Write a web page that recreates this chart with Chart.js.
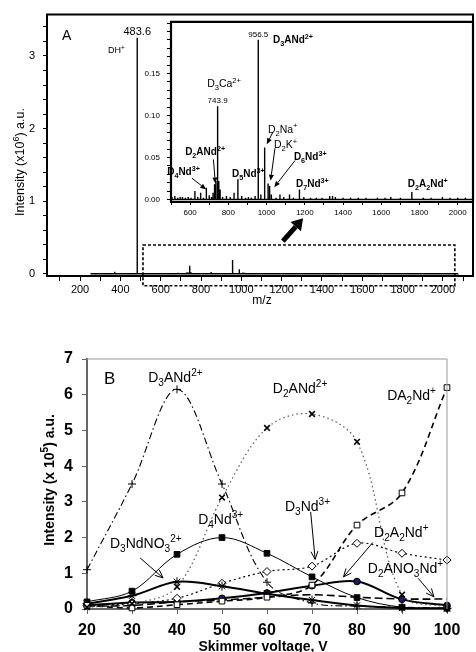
<!DOCTYPE html>
<html>
<head>
<meta charset="utf-8">
<script src="https://cdn.jsdelivr.net/npm/chart.js@4.4.0/dist/chart.umd.min.js"></script>
<style>
html, body { margin: 0; padding: 0; background: #fff; }
#wrap { position: relative; width: 476px; height: 652px; overflow: hidden; }
canvas { position: absolute; }
</style>
</head>
<body>
<div id="wrap">
  <canvas id="specMain" width="476" height="310" style="left:0px;top:0px"></canvas>
  <canvas id="specInset" width="356" height="215" style="left:120px;top:10px"></canvas>
  <canvas id="bChart" width="476" height="322" style="left:0px;top:330px"></canvas>
</div>
<script>
// Panel A - spectrum peaks (m/z, intensity in 10^6 a.u.)
const peakMz = [
  255, 372, 483.6, 505, 520, 535, 548, 560, 575, 590,
  605, 625, 640, 655, 670, 685, 700, 712, 720, 728,
  735, 743.9, 750, 757, 770, 790, 810, 830, 850, 870,
  890, 905, 920, 940, 956.5, 970, 990, 1008, 1016, 1025,
  1050, 1070, 1090, 1120, 1140, 1172, 1195, 1230, 1260, 1290,
  1330, 1345, 1360, 1400, 1440, 1480, 1520, 1580, 1620, 1650,
  1700, 1760, 1820, 1860, 1920, 1960, 2000, 2040, 2075
];
const peakInt = [
  0.01, 0.03, 3.25, 0.003, 0.004, 0.002, 0.003, 0.003, 0.002, 0.003,
  0.002, 0.01, 0.003, 0.008, 0.002, 0.014, 0.005, 0.003, 0.008, 0.018,
  0.022, 0.111, 0.022, 0.012, 0.003, 0.004, 0.003, 0.008, 0.024, 0.004,
  0.002, 0.003, 0.002, 0.004, 0.19, 0.006, 0.062, 0.019, 0.016, 0.006,
  0.002, 0.006, 0.003, 0.006, 0.002, 0.012, 0.003, 0.002, 0.002, 0.002,
  0.004, 0.004, 0.003, 0.002, 0.002, 0.002, 0.002, 0.002, 0.002, 0.003,
  0.002, 0.009, 0.002, 0.002, 0.003, 0.002, 0.002, 0.002, 0.001
];
const mainXTicks = [200, 400, 600, 800, 1000, 1200, 1400, 1600, 1800, 2000];
const mainYTicks = [0, 1, 2, 3];
const insetXTicks = [600, 800, 1000, 1200, 1400, 1600, 1800, 2000];
const insetYTicks = [0, 0.05, 0.10, 0.15];

// Panel B - intensity (10^5 a.u.) vs skimmer voltage
const voltages = [20, 30, 40, 50, 60, 70, 80, 90, 100];
const d3ANd = [1.1, 3.5, 6.15, 3.5, 0.75, 0.17, 0.08, 0.05, 0.02];
const d2ANd = [0.05, 0.15, 0.62, 3.12, 5.07, 5.46, 4.68, 0.4, 0.05];
const da2Nd = [0.1, 0.03, 0.12, 0.22, 0.33, 0.67, 2.35, 3.25, 6.2];
const d4Nd = [0.2, 0.5, 1.53, 2.0, 1.56, 0.9, 0.32, 0.05, 0.02];
const d3NdNO3 = [0.15, 0.37, 0.76, 0.64, 0.43, 0.25, 0.1, 0.03, 0.02];
const d3Nd = [0.1, 0.15, 0.3, 0.72, 1.05, 1.2, 1.84, 1.56, 1.37];
const d2A2Nd = [0.1, 0.18, 0.2, 0.3, 0.45, 0.65, 0.77, 0.27, 0.1];
const d2ANO3Nd = [0.08, 0.1, 0.2, 0.25, 0.33, 0.4, 0.33, 0.28, 0.28];
const bYTicks = [0, 1, 2, 3, 4, 5, 6, 7];

const FONT = "'Liberation Sans', Arial, sans-serif";
Chart.defaults.font.family = FONT;
Chart.defaults.color = '#000';

function fontStr(size, bold) {
  return (bold ? 'bold ' : '') + size + 'px ' + FONT;
}

// "D_3ANd^2+" -> normal / sub / sup pieces
function parseRich(s) {
  const out = [];
  let buf = '', i = 0;
  while (i < s.length) {
    const c = s[i];
    if (c === '_' || c === '^') {
      if (buf) { out.push({ t: buf, m: 'n' }); buf = ''; }
      let j = i + 1, t = '';
      const re = c === '_' ? /[0-9]/ : /[0-9+\-]/;
      while (j < s.length && re.test(s[j])) { t += s[j]; j++; }
      out.push({ t: t, m: c === '_' ? 'sub' : 'sup' });
      i = j;
    } else { buf += c; i++; }
  }
  if (buf) out.push({ t: buf, m: 'n' });
  return out;
}

function drawRich(ctx, s, x, y, size, bold, align) {
  const parts = parseRich(s);
  const small = size * 0.72;
  let w = 0;
  parts.forEach(p => {
    ctx.font = fontStr(p.m === 'n' ? size : small, bold);
    p.w = ctx.measureText(p.t).width;
    w += p.w;
  });
  let cx = align === 'center' ? x - w / 2 : (align === 'right' ? x - w : x);
  const base = y + size * 0.35;
  ctx.textAlign = 'left';
  ctx.textBaseline = 'alphabetic';
  ctx.fillStyle = '#000';
  parts.forEach(p => {
    ctx.font = fontStr(p.m === 'n' ? size : small, bold);
    const dy = p.m === 'sub' ? size * 0.28 : (p.m === 'sup' ? -size * 0.4 : 0);
    ctx.fillText(p.t, cx, base + dy);
    cx += p.w;
  });
}

function drawArrow(ctx, x1, y1, x2, y2, lw, hl, hw, open) {
  const ang = Math.atan2(y2 - y1, x2 - x1);
  const bx = x2 - hl * Math.cos(ang), by = y2 - hl * Math.sin(ang);
  const nx = -Math.sin(ang) * hw / 2, ny = Math.cos(ang) * hw / 2;
  ctx.setLineDash([]);
  ctx.strokeStyle = '#000';
  ctx.fillStyle = '#000';
  ctx.lineWidth = lw;
  ctx.beginPath();
  ctx.moveTo(x1, y1);
  ctx.lineTo(open ? x2 : bx, open ? y2 : by);
  ctx.stroke();
  ctx.beginPath();
  ctx.moveTo(bx + nx, by + ny);
  ctx.lineTo(x2, y2);
  ctx.lineTo(bx - nx, by - ny);
  if (open) { ctx.lineWidth = 1; ctx.stroke(); } else { ctx.closePath(); ctx.fill(); }
}

function steps(a, b, st) {
  const out = [];
  const n = Math.round((b - a) / st);
  for (let k = 0; k <= n; k++) out.push(Math.round((a + k * st) * 1e6) / 1e6);
  return out;
}
const near = (arr, v) => arr.some(t => Math.abs(t - v) < 1e-6);

// annotation layer: frame, labels, arrows, titles
function annotate(cfg) {
  return {
    id: 'annotate',
    afterDraw(chart) {
      const ctx = chart.ctx, a = chart.chartArea;
      const px = v => chart.scales.x.getPixelForValue(v);
      const py = v => chart.scales.y.getPixelForValue(v);
      ctx.save();
      if (cfg.frame) {
        ctx.strokeStyle = cfg.frame.color;
        ctx.lineWidth = cfg.frame.width;
        ctx.beginPath();
        if (cfg.frame.all) {
          ctx.rect(a.left, a.top, a.right - a.left, a.bottom - a.top);
        } else {
          ctx.moveTo(a.left, a.top); ctx.lineTo(a.right, a.top); ctx.lineTo(a.right, a.bottom);
        }
        ctx.stroke();
      }
      if (cfg.box) {
        const b = cfg.box;
        ctx.strokeStyle = '#000';
        ctx.lineWidth = 1.6;
        ctx.setLineDash([3, 2]);
        ctx.strokeRect(px(b.x0), py(b.y1), px(b.x1) - px(b.x0), py(b.y0) - py(b.y1));
        ctx.setLineDash([]);
      }
      (cfg.arrows || []).forEach(r => {
        drawArrow(ctx, px(r.from[0]), py(r.from[1]), px(r.to[0]), py(r.to[1]), r.lw, r.hl, r.hw, r.open);
      });
      (cfg.notes || []).forEach(n => {
        drawRich(ctx, n.t, px(n.x), py(n.y), n.size, n.bold, n.align);
      });
      (cfg.titles || []).forEach(t => {
        ctx.save();
        ctx.translate(t.x, t.y);
        if (t.rot) ctx.rotate(-Math.PI / 2);
        drawRich(ctx, t.t, 0, 0, t.size, t.bold, 'center');
        ctx.restore();
      });
      ctx.restore();
    }
  };
}

function stickPoints(lo, hi) {
  const pts = [];
  peakMz.forEach((m, i) => {
    if (m < lo || m > hi) return;
    pts.push({ x: m, y: 0 }, { x: m, y: peakInt[i] }, { x: m, y: 0 });
  });
  return pts;
}

const common = {
  responsive: false,
  animation: false,
  events: [],
  plugins: { legend: { display: false }, tooltip: { enabled: false } }
};

// ---- Panel A main spectrum ----
new Chart(document.getElementById('specMain'), {
  type: 'line',
  data: {
    datasets: [{
      data: stickPoints(0, 5000),
      borderColor: '#000', borderWidth: 1.4, pointRadius: 0, tension: 0
    }]
  },
  options: Object.assign({}, common, {
    layout: { padding: { top: 12, right: 3, left: 0, bottom: 0 } },
    scales: {
      x: {
        type: 'linear', min: 36, max: 2149,
        afterFit: s => { s.height = 34; },
        afterBuildTicks: s => { s.ticks = steps(100, 2100, 100).map(v => ({ value: v })); },
        ticks: {
          autoSkip: false, maxRotation: 0, padding: 2, font: { size: 11 },
          callback: v => near(mainXTicks, v) ? String(v) : ''
        },
        grid: { drawOnChartArea: false, tickLength: 5, color: '#000' },
        border: { color: '#000', width: 2 }
      },
      y: {
        min: -0.03, max: 3.57,
        afterFit: s => { s.width = 47; },
        afterBuildTicks: s => { s.ticks = steps(0, 3.4, 0.2).map(v => ({ value: v })); },
        ticks: {
          autoSkip: false, padding: 8, font: { size: 11 },
          callback: v => near(mainYTicks, v) ? String(Math.round(v)) : ''
        },
        grid: { drawOnChartArea: false, tickLength: 4, color: '#000' },
        border: { color: '#000', width: 2 }
      }
    }
  }),
  plugins: [annotate({
    frame: { color: '#000', width: 2, all: true },
    box: { x0: 512, x1: 2059, y0: -0.164, y1: 0.396 },
    arrows: [{ from: [1206, 0.45], to: [1306, 0.764], lw: 5, hl: 11, hw: 14 }],
    notes: [
      { t: 'A', x: 111, y: 3.29, size: 14 },
      { t: '483.6', x: 483.6, y: 3.34, size: 11, align: 'center' },
      { t: 'DH^+', x: 339, y: 3.08, size: 9 }
    ],
    titles: [
      { t: 'Intensity (x10^6) a.u.', x: 20, y: 162, size: 12.5, rot: true },
      { t: 'm/z', x: 262, y: 300, size: 12 }
    ]
  })]
});

// ---- Panel A inset ----
new Chart(document.getElementById('specInset'), {
  type: 'line',
  data: {
    datasets: [{
      data: stickPoints(500, 2080),
      borderColor: '#000', borderWidth: 1.4, pointRadius: 0, tension: 0
    }]
  },
  options: Object.assign({}, common, {
    layout: { padding: { top: 7, right: 3, left: 0, bottom: 0 } },
    scales: {
      x: {
        type: 'linear', min: 500, max: 2080,
        afterFit: s => { s.height = 23; },
        afterBuildTicks: s => { s.ticks = steps(500, 2000, 100).map(v => ({ value: v })); },
        ticks: {
          autoSkip: false, maxRotation: 0, padding: 3, font: { size: 8 },
          callback: v => near(insetXTicks, v) ? String(v) : ''
        },
        grid: { drawOnChartArea: false, tickLength: 3, color: '#000' },
        border: { color: '#000', width: 2 }
      },
      y: {
        min: -0.003, max: 0.2115,
        afterFit: s => { s.width = 51; },
        afterBuildTicks: s => { s.ticks = steps(0, 0.21, 0.01).map(v => ({ value: v })); },
        ticks: {
          autoSkip: false, padding: 7, font: { size: 8 },
          callback: v => near(insetYTicks, v) ? v.toFixed(2) : ''
        },
        grid: { drawOnChartArea: false, tickLength: 4, color: '#000' },
        border: { color: '#000', width: 2 }
      }
    }
  }),
  plugins: [annotate({
    frame: { color: '#000', width: 2.2, all: true },
    arrows: [
      { from: [609, 0.0255], to: [684, 0.012], lw: 1, hl: 6, hw: 5 },
      { from: [722, 0.0476], to: [732, 0.019], lw: 1, hl: 6, hw: 5 },
      { from: [1032, 0.0796], to: [1001, 0.0657], lw: 1, hl: 6, hw: 5 },
      { from: [1044, 0.061], to: [1021, 0.0224], lw: 1, hl: 6, hw: 5 },
      { from: [1149, 0.0464], to: [1040, 0.0146], lw: 1, hl: 6, hw: 5 }
    ],
    notes: [
      { t: '956.5', x: 956.5, y: 0.197, size: 8, align: 'center' },
      { t: 'D_3ANd^2+', x: 1034, y: 0.1906, size: 10, bold: true },
      { t: 'D_3Ca^2+', x: 689, y: 0.138, size: 10.5 },
      { t: '743.9', x: 743.9, y: 0.1185, size: 8, align: 'center' },
      { t: 'D_2Na^+', x: 1007, y: 0.0839, size: 10.5 },
      { t: 'D_2K^+', x: 1039, y: 0.0653, size: 10.5 },
      { t: 'D_6Nd^3+', x: 1143, y: 0.0514, size: 10, bold: true },
      { t: 'D_2ANd^2+', x: 574, y: 0.0572, size: 10, bold: true },
      { t: 'D_4Nd^3+', x: 480, y: 0.0328, size: 10, bold: true },
      { t: 'D_5Nd^3+', x: 819, y: 0.0305, size: 10, bold: true },
      { t: 'D_7Nd^3+', x: 1154, y: 0.0189, size: 10, bold: true },
      { t: 'D_2A_2Nd^+', x: 1739, y: 0.0189, size: 10, bold: true }
    ]
  })]
});

// ---- Panel B ----
const pts = vals => voltages.map((v, i) => ({ x: v, y: vals[i] }));
const lineBase = { tension: 0.35, clip: false, borderColor: '#000', pointBorderColor: '#000' };

new Chart(document.getElementById('bChart'), {
  type: 'line',
  data: {
    datasets: [
      Object.assign({}, lineBase, { data: pts(d3ANd), borderWidth: 1.1, borderDash: [7, 3, 1.5, 3],
        pointStyle: 'cross', pointRadius: 4, pointBorderWidth: 1 }),
      Object.assign({}, lineBase, { data: pts(d2ANd), borderColor: '#555', borderWidth: 1.2, borderDash: [1.5, 3],
        pointStyle: 'crossRot', pointRadius: 4, pointBorderWidth: 1.6 }),
      Object.assign({}, lineBase, { data: pts(da2Nd), borderWidth: 1.6, borderDash: [6, 4],
        pointStyle: 'rect', pointRadius: 4, pointBorderWidth: 1, pointBackgroundColor: '#fff' }),
      Object.assign({}, lineBase, { data: pts(d4Nd), borderWidth: 1,
        pointStyle: 'rect', pointRadius: 4, pointBackgroundColor: '#000' }),
      Object.assign({}, lineBase, { data: pts(d3NdNO3), borderWidth: 2,
        pointStyle: 'star', pointRadius: 4.5, pointBorderWidth: 1 }),
      Object.assign({}, lineBase, { data: pts(d3Nd), borderWidth: 1.2, borderDash: [2, 3],
        pointStyle: 'rectRot', pointRadius: 4, pointBorderWidth: 1, pointBackgroundColor: '#fff' }),
      Object.assign({}, lineBase, { data: pts(d2A2Nd), borderWidth: 2,
        pointStyle: 'circle', pointRadius: 3.3, pointBorderWidth: 1, pointBackgroundColor: '#1a1a66' }),
      Object.assign({}, lineBase, { data: pts(d2ANO3Nd), borderWidth: 1.6, borderDash: [8, 4],
        pointRadius: 0 })
    ]
  },
  options: Object.assign({}, common, {
    layout: { padding: { top: 29, right: 29, left: 0, bottom: 0 } },
    scales: {
      x: {
        type: 'linear', min: 20, max: 100,
        afterFit: s => { s.height = 43; },
        afterBuildTicks: s => { s.ticks = voltages.map(v => ({ value: v })); },
        ticks: { autoSkip: false, maxRotation: 0, padding: 7, font: { size: 16, weight: 'bold' } },
        grid: { drawOnChartArea: false, tickLength: 5, color: '#666' },
        border: { color: '#666', width: 2 }
      },
      y: {
        min: 0, max: 7,
        afterFit: s => { s.width = 87; },
        afterBuildTicks: s => { s.ticks = bYTicks.map(v => ({ value: v })); },
        ticks: { autoSkip: false, padding: 9, font: { size: 16, weight: 'bold' } },
        grid: { drawOnChartArea: false, tickLength: 5, color: '#666' },
        border: { color: '#666', width: 2 }
      }
    }
  }),
  plugins: [annotate({
    frame: { color: '#999', width: 1, all: false },
    arrows: [
      { from: [31.8, 1.43], to: [36.9, 0.87], lw: 1, hl: 8, hw: 7, open: true },
      { from: [69.7, 2.72], to: [70.7, 1.39], lw: 1, hl: 8, hw: 7, open: true },
      { from: [83.5, 1.86], to: [77, 0.9], lw: 1, hl: 8, hw: 7, open: true },
      { from: [93.6, 0.86], to: [97.1, 0.34], lw: 1, hl: 8, hw: 7, open: true }
    ],
    notes: [
      { t: 'B', x: 23.8, y: 6.47, size: 17 },
      { t: 'D_3ANd^2+', x: 33.6, y: 6.5, size: 14 },
      { t: 'D_2ANd^2+', x: 61.3, y: 6.19, size: 14 },
      { t: 'DA_2Nd^+', x: 86.7, y: 5.99, size: 14 },
      { t: 'D_4Nd^3+', x: 44.7, y: 2.52, size: 14 },
      { t: 'D_3NdNO_3^2+', x: 25.1, y: 1.85, size: 14 },
      { t: 'D_3Nd^3+', x: 64, y: 2.88, size: 14 },
      { t: 'D_2A_2Nd^+', x: 83.8, y: 2.16, size: 14 },
      { t: 'D_2ANO_3Nd^+', x: 82.4, y: 1.15, size: 14 }
    ],
    titles: [
      { t: 'Intensity (x 10^5) a.u.', x: 49, y: 150, size: 14, bold: true, rot: true },
      { t: 'Skimmer voltage, V', x: 263, y: 316, size: 14, bold: true }
    ]
  })]
});
</script>
</body>
</html>
